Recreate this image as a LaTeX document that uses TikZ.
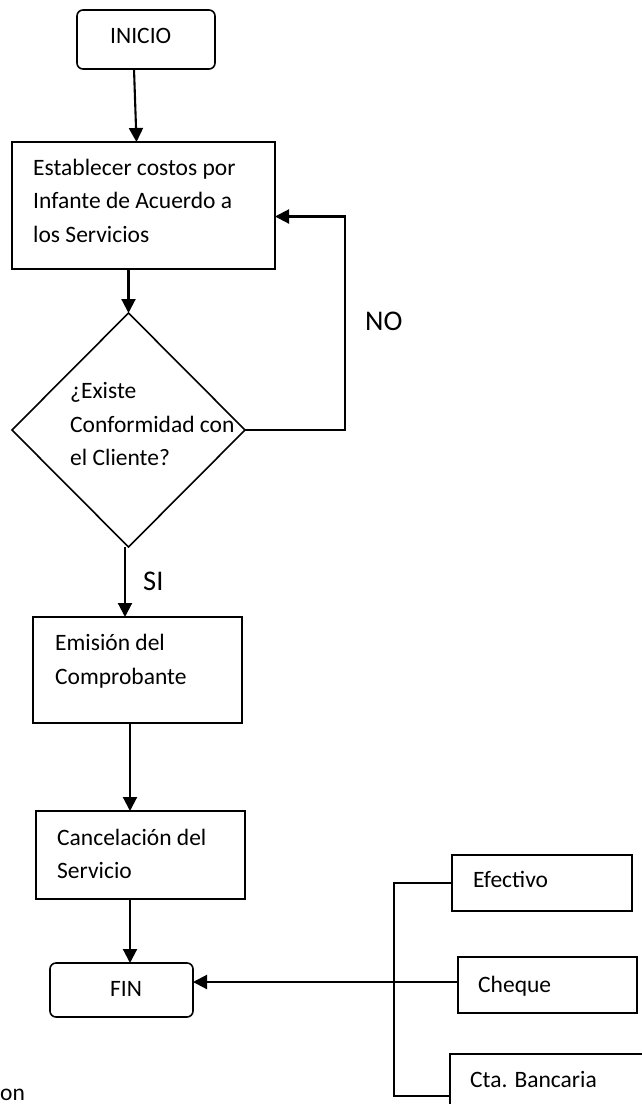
\documentclass[tikz,border=0pt]{standalone}
\usepackage{fontspec}
\setmainfont{Carlito}
\usetikzlibrary{shapes.geometric,arrows.meta,calc}
\begin{document}
\begin{tikzpicture}[x=1pt,y=-1pt,
  box/.style={draw,line width=1.6pt,inner sep=0pt,outer sep=0pt},
  rbox/.style={box,rounded corners=6pt},
  ln/.style={line width=1.7pt},
  arr/.style={line width=2.1pt,-{Triangle[length=14pt,width=14pt]}},
  txt/.style={anchor=base west,inner sep=0pt,font=\fontsize{23.5}{28}\selectfont},
  big/.style={anchor=base west,inner sep=0pt,font=\fontsize{28.5}{32}\selectfont}]
\useasboundingbox (0,0) rectangle (642,1104);
% shapes
\node[rbox,minimum width=138pt,minimum height=59pt] (inicio) at (146,39.5) {};
\node[box,minimum width=263pt,minimum height=127pt] (b1) at (143.5,205.5) {};
\node[box,shape=diamond,minimum width=233pt,minimum height=234pt] (d) at (128.5,430) {};
\node[box,minimum width=209pt,minimum height=106pt] (em) at (137.5,670) {};
\node[box,minimum width=209pt,minimum height=88pt] (ca) at (140.5,855) {};
\node[rbox,minimum width=143pt,minimum height=54pt] (fin) at (121.5,990) {};
\node[box,minimum width=180pt,minimum height=56pt] (ef) at (542,883) {};
\node[box,minimum width=179pt,minimum height=56pt] (ch) at (547.5,985) {};
\node[box,minimum width=210pt,minimum height=76pt] (cb) at (555,1092) {};
% texts
\node[txt] (tinicio) at (110,43) {INICIO};
\node[txt] (t1a) at (33,175) {Establecer costos por};
\node[txt] (t1b) at (33,208.5) {Infante de Acuerdo a};
\node[txt] (t1c) at (33,242) {los Servicios};
\node[txt] (tda) at (70,398) {¿Existe};
\node[txt] (tdb) at (70,432) {Conformidad con};
\node[txt] (tdc) at (70,465) {el Cliente?};
\node[txt] (tema) at (55,650) {Emisión del};
\node[txt] (temb) at (55,684) {Comprobante};
\node[txt] (tcaa) at (57,845) {Cancelación del};
\node[txt] (tcab) at (57,878) {Servicio};
\node[txt] (tfin) at (110,996) {FIN};
\node[txt] (tef) at (473,887) {Efectivo};
\node[txt] (tch) at (478,992) {Cheque};
\node[txt] (tcb) at (470,1087) {Cta. Bancaria};
\node[txt] (ton) at (0,1100) {on};
\node[big] (tno) at (365,330) {NO};
\node[big] (tsi) at (143,590) {SI};
% connectors
\draw[arr] ($(inicio.south)+(-12,0)$) -- ($(b1.north)+(-7,0)$);
\draw[arr] (b1.south -| d.north) -- (d.north);
\coordinate (nocorner) at (345,430);
\draw[arr] (d.east) -- (nocorner) |- ($(b1.east)+(0,11)$);
\draw[arr] ($(d.south)+(-3.5,0)$) -- ($(em.north)+(-12.5,0)$);
\draw[arr] ($(em.south)+(-7.5,0)$) -- ($(ca.north)+(-10.5,0)$);
\draw[arr] ($(ca.south)+(-10.5,0)$) -- ($(fin.north)+(8.5,0)$);
\draw[arr] ($(ch.west)+(0,-3)$) -- ($(fin.east)+(0,-8)$);
\coordinate (brtop) at (394,883);
\coordinate (brbot) at (394,1096);
\draw[ln] (ef.west) -- (brtop) -- (brbot) -- ($(cb.west)+(0,4)$);
\end{tikzpicture}
\end{document}
